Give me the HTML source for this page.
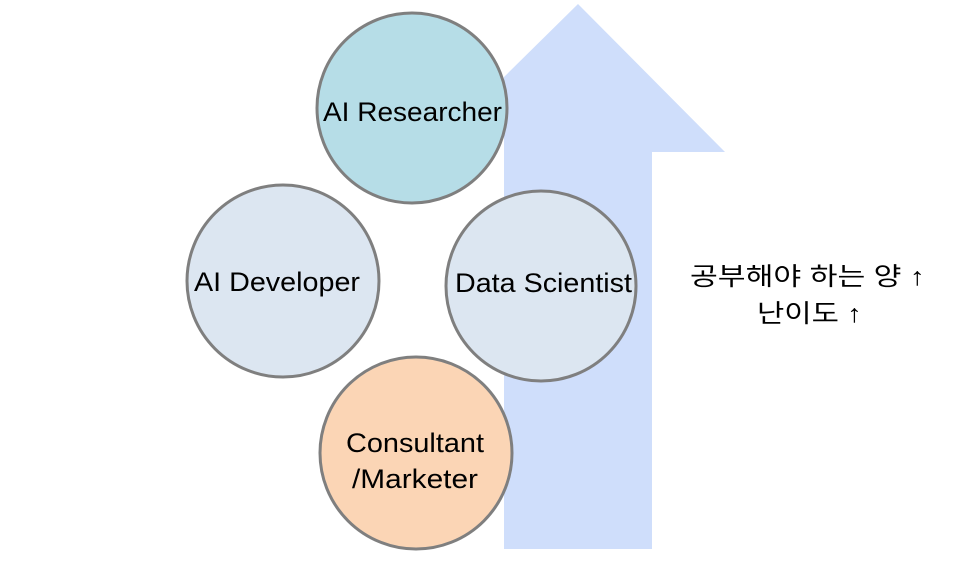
<!DOCTYPE html>
<html><head><meta charset="utf-8"><style>
body{margin:0;width:960px;height:557px;background:#fff;overflow:hidden}
</style></head><body>
<svg width="960" height="557" viewBox="0 0 960 557" xmlns="http://www.w3.org/2000/svg" font-family="'Liberation Sans','Noto Sans CJK KR',sans-serif">
<polygon points="578,4 725,152 652,152 652,549 504,549 504,77" fill="#cfdefb"/>
<g stroke="#7f7f7f" stroke-width="3">
<circle cx="412" cy="108" r="95" fill="#b6dde7"/>
<circle cx="283" cy="281" r="96" fill="#dce6f1"/>
<circle cx="541" cy="286" r="95" fill="#dce6f1"/>
<circle cx="416" cy="453" r="96" fill="#fbd5b5"/>
</g>
<g font-size="27" fill="#000">
<text x="323" y="121" textLength="179" lengthAdjust="spacingAndGlyphs">AI Researcher</text>
<text x="194" y="291" textLength="166" lengthAdjust="spacingAndGlyphs">AI Developer</text>
<text x="455" y="292" textLength="177" lengthAdjust="spacingAndGlyphs">Data Scientist</text>
<text x="346" y="452" textLength="138" lengthAdjust="spacingAndGlyphs">Consultant</text>
<text x="352" y="488" textLength="126" lengthAdjust="spacingAndGlyphs">/Marketer</text>
<text x="690" y="285" font-size="25" textLength="235" lengthAdjust="spacingAndGlyphs">공부해야 하는 양 ↑</text>
<text x="757" y="322" font-size="25" textLength="105" lengthAdjust="spacingAndGlyphs">난이도 ↑</text>
</g>
</svg>
</body></html>
